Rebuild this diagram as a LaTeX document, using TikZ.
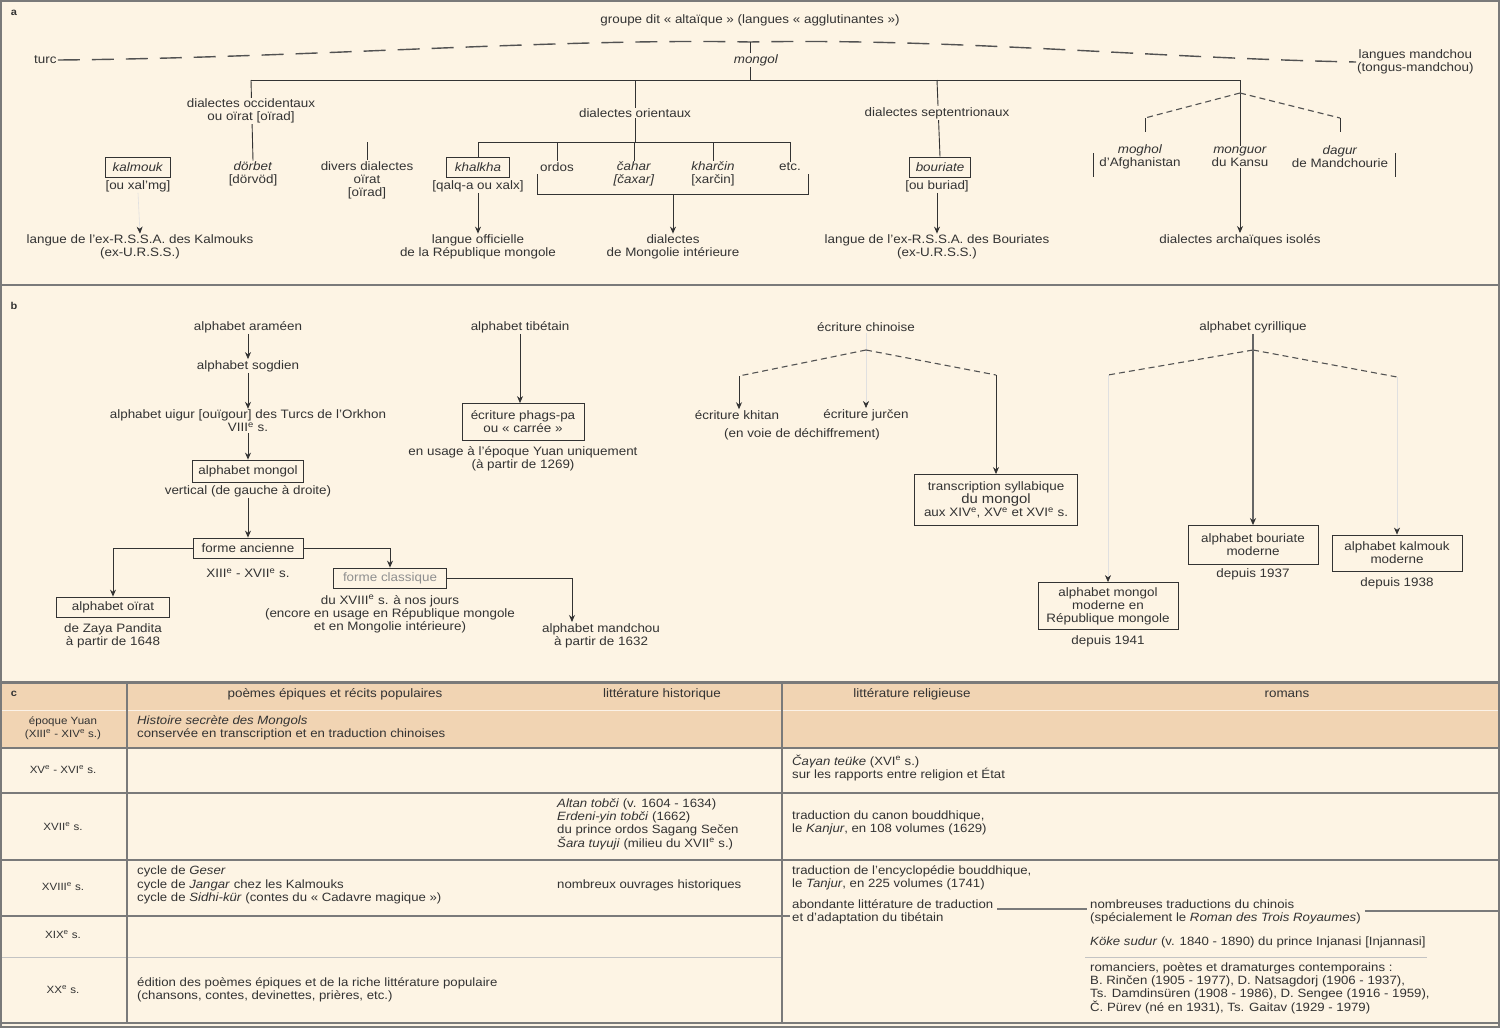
\documentclass[tikz,border=0pt]{standalone}
\usepackage{fontspec}
\setmainfont{Liberation Sans}[FakeStretch=1.1]
\usetikzlibrary{arrows.meta,backgrounds,calc}
\definecolor{bg}{HTML}{FDF4E4}
\definecolor{hdr}{HTML}{F1D4B3}
\definecolor{ink}{HTML}{333333}
\definecolor{frm}{HTML}{7A7A7A}
\tikzset{
 txt/.style={font=\fontsize{12.2}{13}\selectfont, text=ink, align=center, inner sep=1pt},
 ptxt/.style={font=\fontsize{10.5}{12.5}\selectfont, text=ink, align=center, inner sep=1pt},
 tl/.style={font=\fontsize{12}{13.4}\selectfont, text=ink, align=left, anchor=west, inner sep=0pt},
 tbox/.style={txt, draw=ink, line width=0.8pt, inner xsep=6pt, inner ysep=4pt, fill=bg},
 msk/.style={fill=bg},
 ln/.style={draw=ink, line width=0.9pt},
 arr/.style={ln, -{Stealth[length=7pt,width=6pt]}},
 farr/.style={draw=ink!15, line width=0.6pt, -{Stealth[length=7pt,width=6pt,color=ink]}},
 dsh/.style={draw=ink!85, line width=1.1pt, dash pattern=on 6pt off 4pt},
 wave/.style={draw=ink!85, line width=1.4pt, dash pattern=on 22pt off 12pt},
 rowl/.style={draw=frm, line width=1.4pt},
 lbl/.style={font=\bfseries\fontsize{10}{12}\selectfont, text=ink, inner sep=0pt},
}
\begin{document}
\begin{tikzpicture}[x=1pt,y=-1pt]
\useasboundingbox (0,0) rectangle (1500,1028);
\begin{scope}[on background layer]
\fill[bg] (0,0) rectangle (1500,1028);
\fill[hdr] (0,683) rectangle (1500,748);
\end{scope}

% ================= section a =================
\node[lbl] (la) at (14,13) {a};
\node[txt] (grp) at (750,20) {groupe dit « altaïque » (langues « agglutinantes »)};
\node[txt,anchor=west] (turc) at (33,60) {turc};
\node[txt,anchor=west] (mdch) at (1356,62) {langues mandchou\\(tongus-mandchou)};
\node[txt,msk] (mong) at (756,60) {\textit{mongol}};
\coordinate (wtop) at (750,42);
\coordinate (jm) at (750,80);
\coordinate (hl) at (251,80);
\coordinate (hr) at (1240,80);
\coordinate (jo) at (635,80);
\coordinate (js) at (937,80);
\coordinate (ob) at (635,142);
\coordinate (divs) at (367,142);
\coordinate (rj) at (1240,93);
\coordinate (rl) at (1145,118);
\coordinate (rr) at (1340,118);
\coordinate (rl2) at (1145,132);
\coordinate (rr2) at (1340,132);
\coordinate (barLa) at (1093,153);
\coordinate (barLb) at (1093,177);
\coordinate (barRa) at (1395,153);
\coordinate (barRb) at (1395,177);
\coordinate (bkL) at (537,174);
\coordinate (bkLb) at (537,194);
\coordinate (bkR) at (808,174);
\coordinate (bkRb) at (808,194);
\coordinate (bkM) at (673,194);

\node[txt,msk] (occ) at (251,111) {dialectes occidentaux\\ou oïrat [oïrad]};
\node[txt,msk] (ori) at (635,113) {dialectes orientaux};
\node[txt,msk] (sep) at (937,113) {dialectes septentrionaux};

\node[tbox,minimum width=65,minimum height=20] (kal) at (138,167) {\textit{kalmouk}};
\node[txt] (kal2) at (138,186) {[ou xal'mg]};
\node[txt] (dor) at (253,174) {\textit{dörbet}\\{}[dörvöd]};
\node[txt] (div) at (367,180) {divers dialectes\\oïrat\\{}[oïrad]};
\node[tbox,minimum width=63,minimum height=20] (kha) at (478,167) {\textit{khalkha}};
\node[txt] (kha2) at (478,186) {[qalq-a ou xalx]};
\node[txt] (ord) at (557,167) {ordos};
\node[txt] (cah) at (634,174) {\textit{čahar}\\\textit{[čaxar]}};
\node[txt] (khr) at (713,174) {\textit{kharčin}\\{}[xarčin]};
\node[txt] (etc) at (790,167) {etc.};
\node[tbox,minimum width=60,minimum height=20] (bou) at (940,167) {\textit{bouriate}};
\node[txt] (bou2) at (937,186) {[ou buriad]};
\node[txt] (mgh) at (1140,157) {\textit{moghol}\\d'Afghanistan};
\node[txt] (mgr) at (1240,157) {\textit{monguor}\\du Kansu};
\node[txt] (dag) at (1340,157) {\textit{dagur}\\de Mandchourie};

\node[txt] (lk) at (140,247) {langue de l'ex-R.S.S.A. des Kalmouks\\(ex-U.R.S.S.)};
\node[txt] (lo) at (478,247) {langue officielle\\de la République mongole};
\node[txt] (dmi) at (673,247) {dialectes\\de Mongolie intérieure};
\node[txt] (lb) at (937,247) {langue de l'ex-R.S.S.A. des Bouriates\\(ex-U.R.S.S.)};
\node[txt] (dai) at (1240,240) {dialectes archaïques isolés};

\begin{scope}[on background layer]
\draw[wave] (turc.east) .. controls (300,58) and (560,38) .. (wtop) .. controls (950,38) and (1150,58) .. (mdch.west);
\draw[ln] (wtop) -- (jm);
\draw[ln] (hl) -- (hr);
\draw[ln] (hl) -- (dor.north);
\draw[ln] (jo) -- (ob);
\draw[ln] (kha.north |- ob) -- (etc.north |- ob);
\foreach \n in {kha,ord,cah,khr,etc} \draw[ln] (\n.north |- ob) -- (\n.north);
\draw[ln] (divs) -- (div.north);
\draw[ln] (js) -- (bou.north);
\draw[ln] (hr) -- (mgr.north);
\draw[dsh] (rj) -- (rl);
\draw[dsh] (rj) -- (rr);
\draw[ln] (rl) -- (rl2);
\draw[ln] (rr) -- (rr2);
\draw[ln] (barLa) -- (barLb);
\draw[ln] (barRa) -- (barRb);
\draw[arr] (mgr.south) -- (dai.north);
\draw[farr] (kal2.south) -- (lk.north);
\draw[arr] (kha2.south) -- (lo.north);
\draw[ln] (bkL) -- (bkLb) -- (bkRb) -- (bkR);
\draw[arr] (bkM) -- (dmi.north);
\draw[arr] (bou2.south) -- (lb.north);
\end{scope}

% separator a/b
\draw[frm,line width=1.6pt] (0,285) -- (1500,285);

% ================= section b =================
\node[lbl] (lb0) at (14,306) {b};
\node[txt] (ar) at (248,327) {alphabet araméen};
\node[txt] (sog) at (248,366) {alphabet sogdien};
\node[txt] (uig) at (248,421) {alphabet uigur [ouïgour] des Turcs de l'Orkhon\\VIII\textsuperscript{e} s.};
\node[tbox,minimum width=110,minimum height=22] (amg) at (248,471) {alphabet mongol};
\node[txt] (vert) at (248,491) {vertical (de gauche à droite)};
\node[tbox,minimum width=110,minimum height=20] (anc) at (248,548) {forme ancienne};
\node[txt] (ancd) at (248,573) {XIII\textsuperscript{e} - XVII\textsuperscript{e} s.};
\node[tbox,minimum width=113,minimum height=20] (oir) at (113,607) {alphabet oïrat};
\node[txt] (oird) at (113,636) {de Zaya Pandita\\à partir de 1648};
\node[tbox,minimum width=113,minimum height=20,text=ink!55] (cla) at (390,578) {forme classique};
\node[txt] (clad) at (390,614) {du XVIII\textsuperscript{e} s. à nos jours\\(encore en usage en République mongole\\et en Mongolie intérieure)};
\node[txt] (mand) at (601,636) {alphabet mandchou\\à partir de 1632};
\coordinate (mandin) at (572,622);

\node[txt] (tib) at (520,327) {alphabet tibétain};
\node[tbox,minimum width=122,minimum height=37] (phg) at (523,422) {écriture phags-pa\\ou « carrée »};
\node[txt] (phd) at (523,459) {en usage à l'époque Yuan uniquement\\(à partir de 1269)};

\node[txt] (chi) at (866,327) {écriture chinoise};
\coordinate (chJ) at (866,350);
\coordinate (chL) at (739,376);
\coordinate (chR) at (996,375);
\node[txt] (khi) at (737,415) {écriture khitan};
\node[txt] (jur) at (866,415) {écriture jurčen};
\node[txt] (voie) at (802,434) {(en voie de déchiffrement)};
\node[tbox,minimum width=163,minimum height=51] (trs) at (996,500) {transcription syllabique\\{\fontsize{13.5}{14}\selectfont du mongol}\\aux XIV\textsuperscript{e}, XV\textsuperscript{e} et XVI\textsuperscript{e} s.};

\node[txt] (cyr) at (1253,327) {alphabet cyrillique};
\coordinate (cyJ) at (1253,350);
\coordinate (cyL) at (1108,375);
\coordinate (cyR) at (1397,377);
\node[tbox,minimum width=130,minimum height=39] (bmo) at (1253,545) {alphabet bouriate\\moderne};
\node[txt] (bmod) at (1253,574) {depuis 1937};
\node[tbox,minimum width=130,minimum height=36] (kmo) at (1397,553) {alphabet kalmouk\\moderne};
\node[txt] (kmod) at (1397,583) {depuis 1938};
\node[tbox,minimum width=140,minimum height=47] (mmo) at (1108,606) {alphabet mongol\\moderne en\\République mongole};
\node[txt] (mmod) at (1108,641) {depuis 1941};

\begin{scope}[on background layer]
\draw[arr] (ar.south) -- (sog.north);
\draw[arr] (sog.south) -- (uig.north);
\draw[arr] (uig.south) -- (amg.north);
\draw[arr] (vert.south) -- (anc.north);
\draw[arr] (anc.west) -| (oir.north);
\draw[arr] (anc.east) -| (cla.north);
\draw[arr] (cla.east) -| (mandin);
\draw[arr] (tib.south) -- (tib.south |- phg.north);
\draw[farr] (chi.south) -- (jur.north);
\draw[dsh] (chJ) -- (chL);
\draw[dsh] (chJ) -- (chR);
\draw[arr] (chL) -- (khi.north -| chL);
\draw[arr] (chR) -- (trs.north);
\draw[dsh] (cyJ) -- (cyL);
\draw[dsh] (cyJ) -- (cyR);
\draw[draw=ink!75,line width=2pt,-{Stealth[length=7pt,width=6pt,color=ink]}] (cyr.south) -- (bmo.north);
\draw[farr] (cyL) -- (mmo.north);
\draw[farr] (cyR) -- (kmo.north);
\end{scope}

% ================= section c =================
\node[lbl] (lc) at (14,694) {c};
\node[txt] (h1) at (335,694) {poèmes épiques et récits populaires};
\node[txt] (h2) at (662,694) {littérature historique};
\node[txt] (h3) at (912,694) {littérature religieuse};
\node[txt] (h4) at (1287,694) {romans};

\node[ptxt] (p1) at (63,728) {époque Yuan\\(XIII\textsuperscript{e} - XIV\textsuperscript{e} s.)};
\node[ptxt] (p2) at (63,770) {XV\textsuperscript{e} - XVI\textsuperscript{e} s.};
\node[ptxt] (p3) at (63,827) {XVII\textsuperscript{e} s.};
\node[ptxt] (p4) at (63,887) {XVIII\textsuperscript{e} s.};
\node[ptxt] (p5) at (63,935) {XIX\textsuperscript{e} s.};
\node[ptxt] (p6) at (63,990) {XX\textsuperscript{e} s.};

\node[tl] (c1) at (137,728) {\textit{Histoire secrète des Mongols}\\conservée en transcription et en traduction chinoises};
\node[tl] (c2) at (792,768) {\textit{Čaγan teüke} (XVI\textsuperscript{e} s.)\\sur les rapports entre religion et État};
\node[tl] (c3) at (557,824) {\textit{Altan tobči} (v. 1604 - 1634)\\\textit{Erdeni-yin tobči} (1662)\\du prince ordos Sagang Sečen\\\textit{Šara tuγuji} (milieu du XVII\textsuperscript{e} s.)};
\node[tl] (c4) at (792,823) {traduction du canon bouddhique,\\le \textit{Kanjur}, en 108 volumes (1629)};
\node[tl] (c5) at (137,885) {cycle de \textit{Geser}\\cycle de \textit{Jangar} chez les Kalmouks\\cycle de \textit{Sidhi-kür} (contes du « Cadavre magique »)};
\node[tl] (c6) at (557,885) {nombreux ouvrages historiques};
\node[tl] (c7) at (792,878) {traduction de l'encyclopédie bouddhique,\\le \textit{Tanjur}, en 225 volumes (1741)};
\node[tl] (c8) at (792,912) {abondante littérature de traduction\\et d'adaptation du tibétain};
\node[tl] (c9) at (1090,912) {nombreuses traductions du chinois\\(spécialement le \textit{Roman des Trois Royaumes})};
\node[tl] (c10) at (1090,942) {\textit{Köke sudur} (v. 1840 - 1890) du prince Injanasi [Injannasi]};
\node[tl] (c11) at (137,990) {édition des poèmes épiques et de la riche littérature populaire\\(chansons, contes, devinettes, prières, etc.)};
\node[tl] (c12) at (1090,988) {romanciers, poètes et dramaturges contemporains :\\B. Rinčen (1905 - 1977), D. Natsagdorj (1906 - 1937),\\Ts. Damdinsüren (1908 - 1986), D. Sengee (1916 - 1959),\\Č. Pürev (né en 1931), Ts. Gaitav (1929 - 1979)};

\begin{scope}[on background layer]
\draw[frm,line width=3pt] (0,682) -- (1500,682);
\draw[white!70!hdr,line width=1pt] (0,710) -- (1500,710);
\draw[rowl] (0,748) -- (1500,748);
\draw[rowl] (0,793) -- (1500,793);
\draw[rowl] (0,860) -- (1500,860);
\draw[rowl] (0,916) -- (790,916);
\draw[rowl] (c8.north east |- 0,909) ++(4,0) -- (1087,909);
\draw[rowl] (c9.north east |- 0,911) ++(4,0) -- (1500,911);
\draw[frm!45,line width=1pt] (0,957) -- (782,957);
\draw[frm!45,line width=1pt] (1085,957) -- (1427,957);
\draw[frm,line width=2.5pt] (0,1023) -- (1500,1023);
\draw[frm,line width=1.6pt] (127,683) -- (127,1023);
\draw[frm,line width=1.6pt] (782,683) -- (782,1023);
\end{scope}

% outer frame
\draw[frm,line width=2pt] (1,1) rectangle (1499,1027);
\end{tikzpicture}
\end{document}
